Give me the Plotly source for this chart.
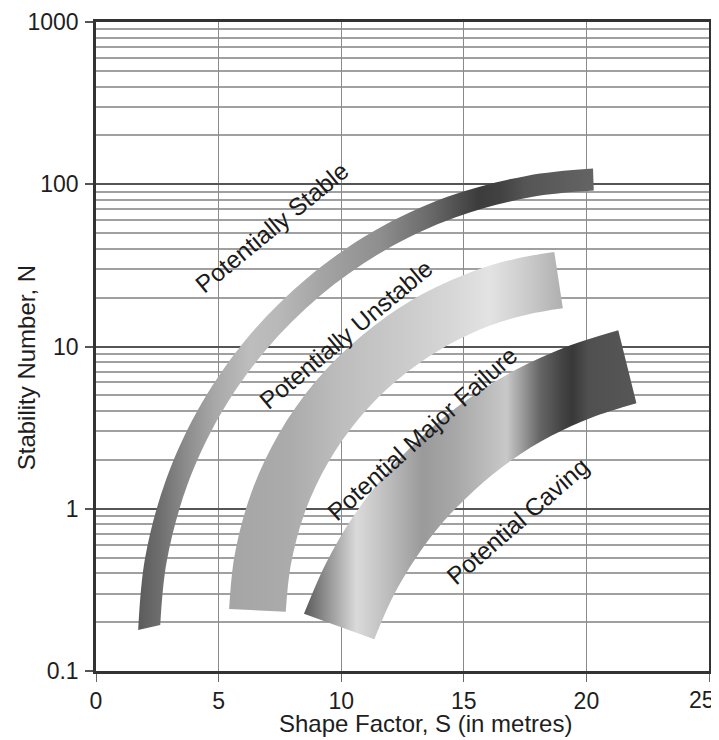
import math
import plotly.graph_objects as go

# ---------------- data ----------------
# Shape factor S (x) and stability number N (y) along the two edges of each zone band
stable_outer_x = [1.72, 2.00, 2.87, 4.29, 6.21, 8.58, 11.32, 14.36, 17.60, 20.27]
stable_outer_y = [0.179, 0.496, 1.53, 4.42, 11.5, 26.2, 51.3, 83.9, 113, 125]
stable_inner_x = [2.62, 2.88, 3.71, 5.06, 6.90, 9.15, 11.77, 14.67, 17.76, 20.30]
stable_inner_y = [0.192, 0.470, 1.38, 3.78, 9.41, 20.6, 39.1, 62.6, 83.5, 91.6]

unstable_outer_x = [5.43, 5.65, 6.33, 7.44, 8.95, 10.82, 12.97, 15.36, 17.13, 18.69]
unstable_outer_y = [0.241, 0.514, 1.25, 2.87, 6.08, 11.6, 19.7, 29.0, 34.8, 38.3]
unstable_inner_x = [7.74, 7.94, 8.51, 9.45, 10.73, 12.31, 14.13, 16.16, 17.65, 19.04]
unstable_inner_y = [0.232, 0.447, 0.946, 1.91, 3.61, 6.25, 9.76, 13.6, 15.8, 17.2]

caving_outer_x = [8.48, 9.38, 10.51, 11.88, 13.45, 15.21, 17.12, 19.16, 21.30]
caving_outer_y = [0.225, 0.462, 0.904, 1.68, 2.93, 4.78, 7.18, 9.93, 12.6]
caving_inner_x = [11.35, 12.10, 13.05, 14.18, 15.50, 16.96, 18.55, 20.25, 22.04]
caving_inner_y = [0.157, 0.285, 0.499, 0.836, 1.33, 2.00, 2.81, 3.67, 4.47]

zone_labels = ["Potentially Stable", "Potentially Unstable",
               "Potential Major Failure", "Potential Caving"]
label_s = [7.17, 10.2, 13.32, 17.19]
label_n = [54.5, 11.8, 2.9, 0.83]
label_angle = [-39.5, -40, -42, -41]

x_ticks = [0, 5, 10, 15, 20, 25]
x_ticktext = ["0", "5", "10", "15", "20", "25"]
y_ticks = [0.1, 1, 10, 100, 1000]
y_ticktext = ["0.1", "1", "10", "100", "1000"]

# ---------------- styles ----------------
FONT = "Liberation Sans, Arial, Helvetica, sans-serif"
grad_stable = [[0.0, "#5a5a5a"], [0.067, "#5a5a5a"], [0.104, "#6e6e6e"], [0.144, "#8a8a8a"],
               [0.194, "#a8a8a8"], [0.251, "#bdbdbd"], [0.30, "#b8b8b8"], [0.364, "#a5a5a5"],
               [0.464, "#8e8e8e"], [0.544, "#6a6a6a"], [0.624, "#3c3c3c"], [0.66, "#424242"],
               [0.70, "#555555"], [0.812, "#646464"], [1.0, "#646464"]]
grad_unstable = [[0.0, "#a5a5a5"], [0.217, "#a5a5a5"], [0.316, "#ababab"], [0.398, "#bdbdbd"],
                 [0.496, "#cacaca"], [0.576, "#d6d6d6"], [0.642, "#e3e3e3"], [0.692, "#d0d0d0"],
                 [0.756, "#b2b2b2"], [1.0, "#b2b2b2"]]
grad_caving = [[0.0, "#606060"], [0.344, "#606060"], [0.37, "#888888"], [0.425, "#dadada"],
               [0.479, "#bbbbbb"], [0.532, "#9a9a9a"], [0.588, "#a8a8a8"], [0.642, "#bdbdbd"],
               [0.67, "#c8c8c8"], [0.696, "#9a9a9a"], [0.724, "#666666"], [0.76, "#444444"],
               [0.777, "#383838"], [0.804, "#505050"], [0.886, "#575757"], [1.0, "#575757"]]

fig = go.Figure()


def add_band(ox, oy, ix, iy, scale):
    # inner edge first, then the outer edge filled back to it
    fig.add_trace(go.Scatter(
        x=ix, y=iy, mode="lines",
        line=dict(width=0, color="rgba(0,0,0,0)", shape="spline", smoothing=1.0),
        hoverinfo="skip", showlegend=False))
    fig.add_trace(go.Scatter(
        x=ox, y=oy, mode="lines", fill="tonexty",
        line=dict(width=0, color="rgba(0,0,0,0)", shape="spline", smoothing=1.0),
        fillgradient=dict(type="horizontal", colorscale=scale, start=0, stop=25),
        hoverinfo="skip", showlegend=False))


add_band(stable_outer_x, stable_outer_y, stable_inner_x, stable_inner_y, grad_stable)
add_band(unstable_outer_x, unstable_outer_y, unstable_inner_x, unstable_inner_y, grad_unstable)
add_band(caving_outer_x, caving_outer_y, caving_inner_x, caving_inner_y, grad_caving)

for txt, s, n, ang in zip(zone_labels, label_s, label_n, label_angle):
    fig.add_annotation(x=s, y=math.log10(n), xref="x", yref="y", text=txt,
                       textangle=ang, showarrow=False,
                       font=dict(family=FONT, size=24.5, color="#1a1a1a"))

minor_vals = [m * 10 ** e for e in range(-1, 3) for m in range(2, 10)]

# the last x tick label sits at the window edge, so it is placed as a right-anchored text
fig.update_xaxes(range=[0, 25], tickvals=x_ticks, ticktext=x_ticktext[:-1] + [""],
                 showgrid=True, gridcolor="#8a8a8a",
                 gridwidth=1, zeroline=False, showline=True, mirror=True,
                 linecolor="#333333", linewidth=2.5, ticks="outside", ticklen=8,
                 tickcolor="#666666", tickwidth=1, automargin=False,
                 ticklabeloverflow="allow",
                 tickfont=dict(family=FONT, size=23, color="#1e1e1e"))
fig.add_annotation(x=x_ticks[-1], y=-0.0445, xref="x", yref="paper",
                   text=x_ticktext[-1], showarrow=False, xanchor="right",
                   yanchor="middle", xshift=8,
                   font=dict(family=FONT, size=23, color="#1e1e1e"))

fig.update_yaxes(type="log", range=[-1, 3], tickvals=y_ticks, ticktext=y_ticktext,
                 showgrid=True, gridcolor="#555555", gridwidth=2, zeroline=False,
                 showline=True, mirror=True, linecolor="#333333", linewidth=2.5,
                 ticks="outside", ticklen=8, tickcolor="#555555", tickwidth=2,
                 automargin=False, ticklabeloverflow="allow", ticklabelstandoff=2,
                 tickfont=dict(family=FONT, size=23, color="#1e1e1e"),
                 minor=dict(tickvals=minor_vals, showgrid=True, gridcolor="#a0a0a0",
                            gridwidth=1.5, ticks=""))

fig.add_annotation(x=0.537, y=-0.081, xref="paper", yref="paper",
                   text="Shape Factor, S (in metres)", showarrow=False,
                   xanchor="center", yanchor="middle",
                   font=dict(family=FONT, size=24, color="#1e1e1e"))
fig.add_annotation(x=-0.112, y=0.467, xref="paper", yref="paper",
                   text="Stability Number, N", showarrow=False, textangle=-90,
                   xanchor="center", yanchor="middle",
                   font=dict(family=FONT, size=24, color="#1e1e1e"))

# the page body adds an 8px offset, so the figure is sized to the remaining window
fig.update_layout(width=711, height=732,
                  margin=dict(l=88, r=10, t=14, b=69),
                  plot_bgcolor="white", paper_bgcolor="white",
                  showlegend=False, font=dict(family=FONT, size=23, color="#1e1e1e"))

fig.write_html("out.html")
